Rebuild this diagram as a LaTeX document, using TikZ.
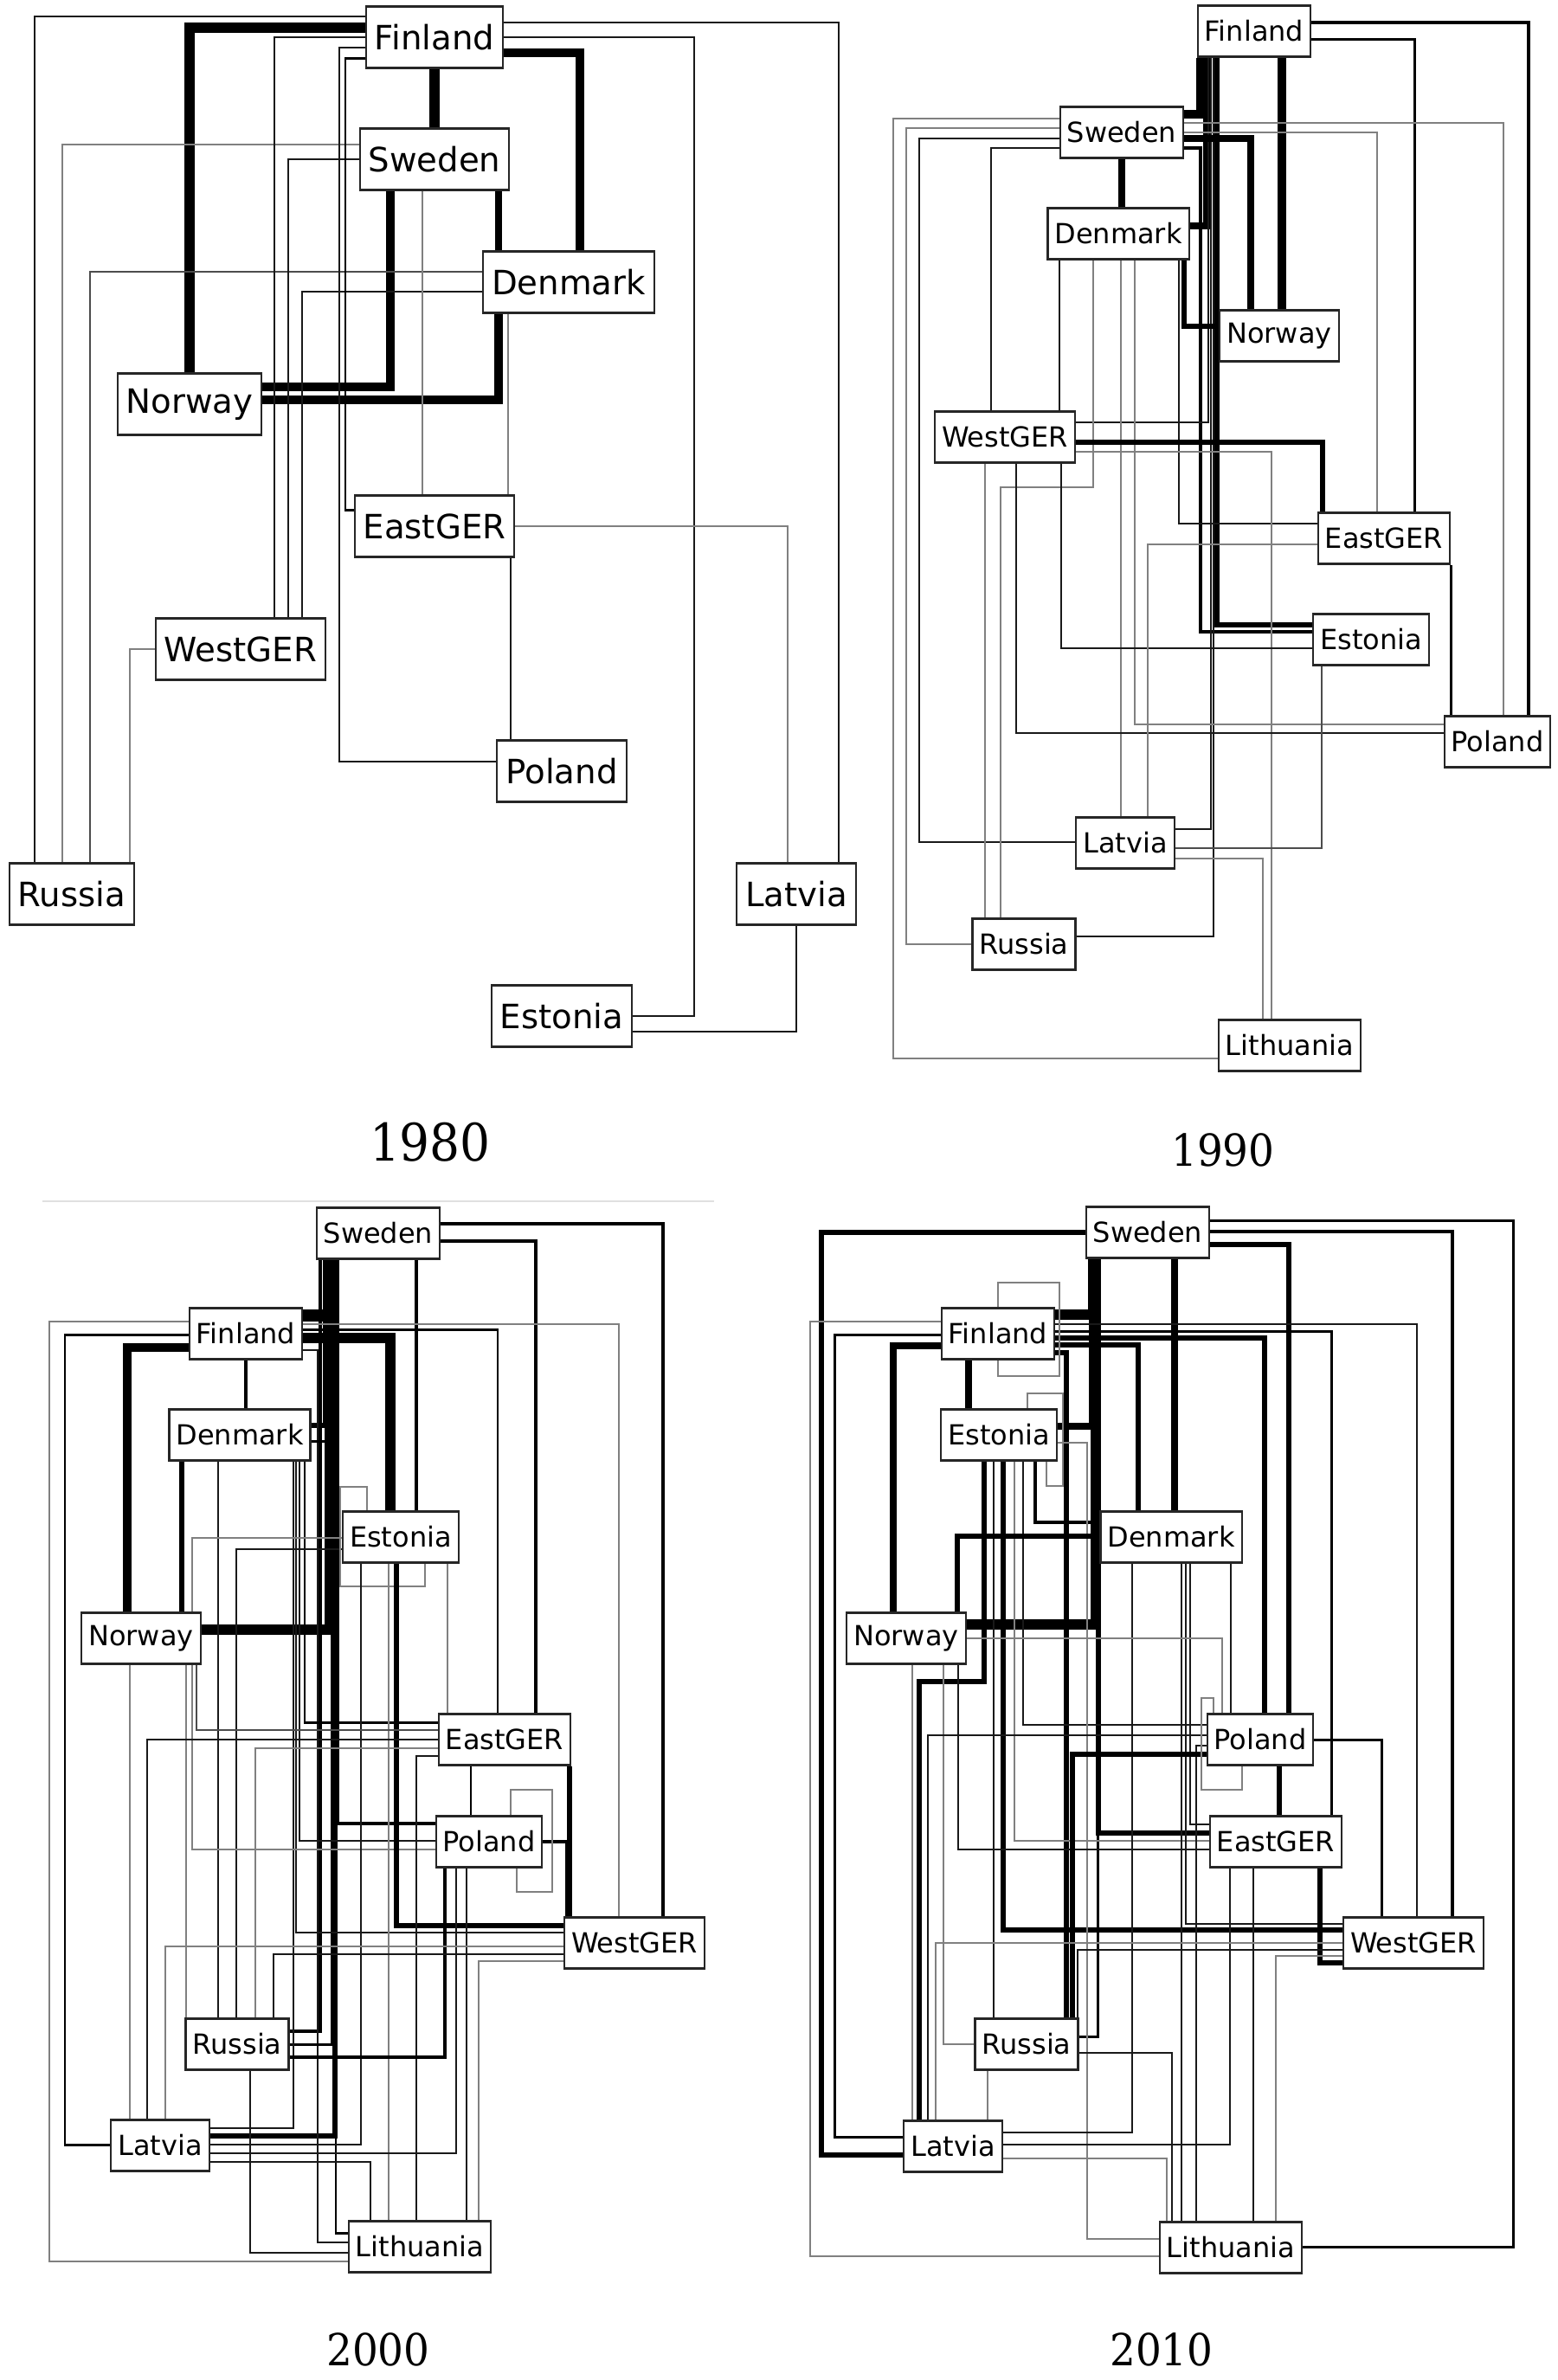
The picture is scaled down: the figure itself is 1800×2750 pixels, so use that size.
\documentclass[tikz,border=0pt]{standalone}
\usepackage{fontspec}
\setmainfont{DejaVu Sans}
\newfontfamily\yearfont[FakeStretch=0.92]{DejaVu Serif}
\usetikzlibrary{backgrounds}

\begin{document}
\begin{tikzpicture}[
    x=0.01cm, y=-0.01cm,
    country/.style={draw=black!85, fill=white, line width=0.6pt, inner xsep=0.1cm, inner ysep=0pt,
      minimum height=0.71cm, font=\fontsize{11}{13}\selectfont},
    smallcountry/.style={country, inner xsep=0.08cm, minimum height=0.59cm, font=\fontsize{9.1}{11}\selectfont},
    bigyear/.style={font=\yearfont\fontsize{17}{20}\selectfont},
    year/.style={font=\yearfont\fontsize{14.5}{17}\selectfont},
    faint/.style={black!12, line width=0.4pt},
    grey/.style={black!50, line width=0.45pt},
    dark/.style={black!70, line width=0.5pt},
    link1/.style={black!90, line width=0.55pt},
    link2/.style={black, line width=0.85pt},
    link3/.style={black, line width=1.15pt},
    link4/.style={black, line width=1.45pt},
    link5/.style={black, line width=1.75pt},
    link6/.style={black, line width=2.3pt},
    link7/.style={black, line width=2.85pt},
    link8/.style={black, line width=3.4pt},
    link9/.style={black, line width=4pt}
  ]
  \useasboundingbox (0,0) rectangle (1800,2750);

  \node[country] (fin80) at (502,43) {Finland};
  \node[country] (swe80) at (502,184) {Sweden};
  \node[country] (den80) at (657,326) {Denmark};
  \node[country] (nor80) at (219,467) {Norway};
  \node[country] (egr80) at (502,608) {EastGER};
  \node[country] (wgr80) at (278,750) {WestGER};
  \node[country] (pol80) at (649,891) {Poland};
  \node[country] (rus80) at (83,1033) {Russia};
  \node[country] (lat80) at (920,1033) {Latvia};
  \node[country] (est80) at (649,1174) {Estonia};
  \node[bigyear] (y80) at (497,1320) {1980};

  \node[smallcountry] (fin90) at (1449,36) {Finland};
  \node[smallcountry] (swe90) at (1296,153) {Sweden};
  \node[smallcountry] (den90) at (1292,270) {Denmark};
  \node[smallcountry] (nor90) at (1478,388) {Norway};
  \node[smallcountry] (wgr90) at (1161,505) {WestGER};
  \node[smallcountry] (egr90) at (1599,622) {EastGER};
  \node[smallcountry] (est90) at (1584,739) {Estonia};
  \node[smallcountry] (pol90) at (1730,857) {Poland};
  \node[smallcountry] (lat90) at (1300,974) {Latvia};
  \node[smallcountry] (rus90) at (1183,1091) {Russia};
  \node[smallcountry] (lit90) at (1490,1208) {Lithuania};
  \node[year] (y90) at (1413,1329) {1990};

  \node[smallcountry] (swe00) at (437,1425) {Sweden};
  \node[smallcountry] (fin00) at (284,1541) {Finland};
  \node[smallcountry] (den00) at (277,1658) {Denmark};
  \node[smallcountry] (est00) at (463,1776) {Estonia};
  \node[smallcountry] (nor00) at (163,1893) {Norway};
  \node[smallcountry] (egr00) at (583,2010) {EastGER};
  \node[smallcountry] (pol00) at (565,2128) {Poland};
  \node[smallcountry] (wgr00) at (733,2245) {WestGER};
  \node[smallcountry] (rus00) at (274,2362) {Russia};
  \node[smallcountry] (lat00) at (185,2479) {Latvia};
  \node[smallcountry] (lit00) at (485,2596) {Lithuania};
  \node[year] (y00) at (437,2715) {2000};

  \node[smallcountry] (swe10) at (1326,1424) {Sweden};
  \node[smallcountry] (fin10) at (1153,1541) {Finland};
  \node[smallcountry] (est10) at (1154,1658) {Estonia};
  \node[smallcountry] (den10) at (1353,1776) {Denmark};
  \node[smallcountry] (nor10) at (1047,1893) {Norway};
  \node[smallcountry] (pol10) at (1456,2010) {Poland};
  \node[smallcountry] (egr10) at (1474,2128) {EastGER};
  \node[smallcountry] (wgr10) at (1633,2245) {WestGER};
  \node[smallcountry] (rus10) at (1186,2362) {Russia};
  \node[smallcountry] (lat10) at (1101,2480) {Latvia};
  \node[smallcountry] (lit10) at (1422,2597) {Lithuania};
  \node[year] (y10) at (1342,2715) {2010};

  \begin{scope}[on background layer]
  \draw[link8] (fin80.west |- 0,32) -| (nor80.north);
  \draw[link8] (fin80.south) -- (swe80.north);
  \draw[link7] (fin80.east |- 0,61) -| (den80.north -| 670,0);
  \draw[link7] (swe80.south -| 451,0) |- (nor80.east |- 0,447);
  \draw[link7] (den80.south -| 576,0) |- (nor80.east |- 0,462);
  \draw[link6] (swe80.south -| 576,0) -- (den80.north -| 576,0);
  \draw[link1] (fin80.west |- 0,19) -| (rus80.north -| 40,0);
  \draw[grey] (swe80.west |- 0,167) -| (rus80.north -| 72,0);
  \draw[dark] (den80.west |- 0,314) -| (rus80.north -| 104,0);
  \draw[grey] (wgr80.west) -| (rus80.north -| 150,0);
  \draw[link1] (fin80.west |- 0,43) -| (wgr80.north -| 317,0);
  \draw[link1] (swe80.west |- 0,184) -| (wgr80.north -| 333,0);
  \draw[link1] (den80.west |- 0,337) -| (wgr80.north -| 349,0);
  \draw[link1] (fin80.west |- 0,55) -| (392,880) -- (pol80.west |- 0,880);
  \draw[link2] (fin80.west |- 0,67) -| (399,589) -- (egr80.west |- 0,589);
  \draw[link1] (fin80.east |- 0,26) -| (lat80.north -| 969,0);
  \draw[link1] (fin80.east |- 0,43) -| (802,1174) -- (est80.east |- 0,1174);
  \draw[grey] (swe80.south -| 488,0) -- (egr80.north -| 488,0);
  \draw[grey] (den80.south -| 587,0) -- (egr80.north -| 587,0);
  \draw[grey] (egr80.east) -| (lat80.north -| 910,0);
  \draw[link1] (egr80.south -| 590,0) -- (pol80.north -| 590,0);
  \draw[link1] (lat80.south) |- (est80.east |- 0,1192);

  \draw[link7] (fin90.south -| 1387,0) |- (swe90.east |- 0,132);
  \draw[link7] (fin90.south -| 1481,0) -- (nor90.north -| 1481,0);
  \draw[link6] (fin90.south -| 1394,0) |- (den90.east |- 0,261);
  \draw[link5] (fin90.south -| 1406,0) |- (est90.west |- 0,722);
  \draw[link3] (swe90.east |- 0,171) -| (1387,730) -- (est90.west |- 0,730);
  \draw[link3] (fin90.east |- 0,26) -| (pol90.north -| 1766,0);
  \draw[link2] (fin90.east |- 0,45) -| (egr90.north -| 1634,0);
  \draw[link1] (fin90.south -| 1396,0) |- (wgr90.east |- 0,488);
  \draw[link1] (fin90.south -| 1399,0) |- (lat90.east |- 0,958);
  \draw[link1] (fin90.south -| 1402,0) |- (rus90.east |- 0,1082);
  \draw[link6] (swe90.south) -- (swe90.south |- den90.north);
  \draw[link6] (swe90.east |- 0,160) -| (nor90.north -| 1445,0);
  \draw[grey] (swe90.east |- 0,142) -| (pol90.north -| 1737,0);
  \draw[grey] (swe90.east |- 0,153) -| (egr90.north -| 1591,0);
  \draw[grey] (swe90.west |- 0,137) -| (1032,1223) -- (lit90.west |- 0,1223);
  \draw[grey] (swe90.west |- 0,148) -| (1047,1091) -- (rus90.west);
  \draw[link1] (swe90.west |- 0,160) -| (1062,973) -- (lat90.west |- 0,973);
  \draw[link1] (swe90.west |- 0,171) -| (wgr90.north -| 1145,0);
  \draw[link1] (den90.south -| 1224,0) -- (wgr90.north -| 1224,0);
  \draw[grey] (den90.south -| 1263,0) |- (1156,563) -- (rus90.north -| 1156,0);
  \draw[grey] (den90.south -| 1295,0) -- (lat90.north -| 1295,0);
  \draw[grey] (den90.south -| 1311,0) |- (pol90.west |- 0,837);
  \draw[link5] (den90.south -| 1368,0) |- (nor90.west |- 0,377);
  \draw[link1] (den90.south -| 1362,0) |- (egr90.west |- 0,605);
  \draw[link5] (wgr90.east |- 0,511) -| (egr90.north -| 1528,0);
  \draw[grey] (wgr90.east |- 0,522) -| (lit90.north -| 1469,0);
  \draw[grey] (wgr90.south -| 1138,0) -- (rus90.north -| 1138,0);
  \draw[link1] (wgr90.south -| 1174,0) |- (pol90.west |- 0,847);
  \draw[link1] (wgr90.south -| 1226,0) |- (est90.west |- 0,749);
  \draw[grey] (egr90.west |- 0,629) -| (lat90.north -| 1326,0);
  \draw[link2] (egr90.south -| 1676,0) -- (pol90.north -| 1676,0);
  \draw[dark] (est90.south -| 1527,0) |- (lat90.east |- 0,980);
  \draw[grey] (lat90.east |- 0,992) -| (lit90.north -| 1459,0);

  \draw[faint] (49,1388) -- (825,1388);
  \draw[link3] (swe00.east |- 0,1414) -| (wgr00.north -| 766,0);
  \draw[link3] (swe00.east |- 0,1434) -| (egr00.north -| 619,0);
  \draw[link3] (swe00.south -| 481,0) -- (est00.north -| 481,0);
  \draw[link9] (swe00.south -| 380,0) |- (fin00.east |- 0,1520);
  \draw[link5] (swe00.south -| 376,0) |- (den00.east |- 0,1647);
  \draw[link8] (swe00.south -| 381,0) |- (nor00.east |- 0,1883);
  \draw[link3] (swe00.south -| 390,0) |- (pol00.west |- 0,2107);
  \draw[link3] (swe00.south -| 370,0) |- (rus00.east |- 0,2347);
  \draw[link4] (swe00.south -| 387,0) |- (lat00.east |- 0,2468);
  \draw[link2] (swe00.south -| 388,0) |- (lit00.west |- 0,2580);
  \draw[link1] (fin00.east |- 0,1560) -| (367,2591) -- (lit00.west |- 0,2591);
  \draw[link2] (den00.east |- 0,1665) -| (383,2362) -- (rus00.east);
  \draw[link8] (fin00.east |- 0,1546) -| (est00.north -| 451,0);
  \draw[link2] (fin00.east |- 0,1536) -| (egr00.north -| 575,0);
  \draw[grey] (fin00.east |- 0,1530) -| (wgr00.north -| 715,0);
  \draw[grey] (fin00.west |- 0,1527) -| (57,2613) -- (lit00.west |- 0,2613);
  \draw[link2] (fin00.west |- 0,1542) -| (75,2478) -- (lat00.west |- 0,2478);
  \draw[link7] (fin00.west |- 0,1557) -| (nor00.north -| 147,0);
  \draw[link3] (fin00.south) -- (fin00.south |- den00.north);
  \draw[link4] (den00.south -| 210,0) -- (nor00.north -| 210,0);
  \draw[link1] (den00.south -| 252,0) -- (rus00.north -| 252,0);
  \draw[link2] (den00.south -| 352,0) |- (egr00.west |- 0,1990);
  \draw[link1] (den00.south -| 346,0) |- (pol00.west |- 0,2127);
  \draw[link1] (den00.south -| 342,0) |- (wgr00.west |- 0,2233);
  \draw[link1] (den00.south -| 339,0) |- (lat00.east |- 0,2459);
  \draw[link1] (est00.west |- 0,1790) -| (rus00.north -| 273,0);
  \draw[grey] (est00.west |- 0,1777) -| (222,2137) -- (pol00.west |- 0,2137);
  \draw[grey] (est00.north -| 424,0) |- (393,1718) |- (491,1833) -- (est00.south -| 491,0);
  \draw[link1] (est00.south -| 417,0) |- (lat00.east |- 0,2478);
  \draw[grey] (est00.south -| 449,0) -- (lit00.north -| 449,0);
  \draw[link4] (est00.south -| 458,0) |- (wgr00.west |- 0,2225);
  \draw[grey] (est00.south -| 517,0) -- (egr00.north -| 517,0);
  \draw[grey] (nor00.south -| 150,0) -- (lat00.north -| 150,0);
  \draw[dark] (nor00.south -| 227,0) |- (egr00.west |- 0,1999);
  \draw[grey] (nor00.south -| 215,0) -- (rus00.north -| 215,0);
  \draw[link1] (egr00.west) -| (lat00.north -| 170,0);
  \draw[grey] (egr00.west |- 0,2020) -| (rus00.north -| 295,0);
  \draw[link1] (egr00.west |- 0,2029) -| (lit00.north -| 481,0);
  \draw[link2] (egr00.south -| 544,0) -- (pol00.north -| 544,0);
  \draw[link4] (egr00.south -| 658,0) -- (wgr00.north -| 658,0);
  \draw[link3] (pol00.east) -| (wgr00.north -| 655,0);
  \draw[link3] (pol00.south -| 514,0) |- (rus00.east |- 0,2377);
  \draw[link1] (pol00.south -| 527,0) |- (lat00.east |- 0,2488);
  \draw[link1] (pol00.south -| 539,0) -- (lit00.north -| 539,0);
  \draw[grey] (pol00.north -| 590,0) |- (638,2068) |- (597,2186) -- (pol00.south -| 597,0);
  \draw[grey] (wgr00.west |- 0,2249) -| (lat00.north -| 191,0);
  \draw[link1] (wgr00.west |- 0,2258) -| (rus00.north -| 316,0);
  \draw[grey] (wgr00.west |- 0,2266) -| (lit00.north -| 553,0);
  \draw[link1] (rus00.south -| 289,0) |- (lit00.west |- 0,2603);
  \draw[link1] (lat00.east |- 0,2498) -| (lit00.north -| 428,0);

  \draw[link2] (swe10.east |- 0,1410) -| (1748,2596) -- (lit10.east |- 0,2596);
  \draw[link3] (swe10.east |- 0,1423) -| (wgr10.north -| 1678,0);
  \draw[link5] (swe10.east |- 0,1438) -| (pol10.north -| 1489,0);
  \draw[link5] (swe10.west) -| (949,2490) -- (lat10.west |- 0,2490);
  \draw[link6] (swe10.south -| 1357,0) -- (den10.north -| 1357,0);
  \draw[link8] (swe10.south -| 1263,0) |- (fin10.east |- 0,1519);
  \draw[link6] (swe10.south -| 1262,0) |- (est10.east |- 0,1648);
  \draw[link8] (swe10.south -| 1266,0) |- (nor10.east |- 0,1877);
  \draw[link5] (swe10.south -| 1269,0) |- (egr10.west |- 0,2118);
  \draw[link2] (swe10.south -| 1268,0) |- (rus10.east |- 0,2353);
  \draw[link1] (fin10.east |- 0,1530) -| (wgr10.north -| 1637,0);
  \draw[link2] (fin10.east |- 0,1538) -| (egr10.north -| 1538,0);
  \draw[link4] (fin10.east |- 0,1546) -| (pol10.north -| 1461,0);
  \draw[link5] (fin10.east |- 0,1554) -| (den10.north -| 1315,0);
  \draw[link4] (fin10.east |- 0,1563) -| (rus10.north -| 1232,0);
  \draw[grey] (fin10.west |- 0,1527) -| (936,2607) -- (lit10.west |- 0,2607);
  \draw[link2] (fin10.west |- 0,1542) -| (964,2469) -- (lat10.west |- 0,2469);
  \draw[link6] (fin10.west |- 0,1555) -| (nor10.north -| 1032,0);
  \draw[link6] (fin10.south -| 1119,0) -- (est10.north -| 1119,0);
  \draw[grey] (fin10.north) |- (1224,1482) |- (1153,1590) -- (fin10.south);
  \draw[link3] (est10.south -| 1196,0) |- (den10.west |- 0,1759);
  \draw[link4] (est10.south -| 1159,0) |- (wgr10.west |- 0,2230);
  \draw[link4] (est10.south -| 1137,0) |- (1062,1943) -- (lat10.north -| 1062,0);
  \draw[link1] (est10.south -| 1148,0) -- (rus10.north -| 1148,0);
  \draw[grey] (est10.south -| 1172,0) |- (egr10.west |- 0,2127);
  \draw[link1] (est10.south -| 1182,0) |- (pol10.west |- 0,1993);
  \draw[grey] (est10.east |- 0,1667) -| (1256,2587) -- (lit10.west |- 0,2587);
  \draw[grey] (est10.north -| 1187,0) |- (1228,1610) |- (1209,1717) -- (est10.south -| 1209,0);
  \draw[link4] (den10.west |- 0,1775) -| (nor10.north -| 1106,0);
  \draw[link1] (den10.south -| 1308,0) |- (lat10.east |- 0,2464);
  \draw[link1] (den10.south -| 1365,0) -- (lit10.north -| 1365,0);
  \draw[link1] (den10.south -| 1370,0) |- (wgr10.west |- 0,2223);
  \draw[link1] (den10.south -| 1375,0) |- (egr10.west |- 0,2108);
  \draw[link1] (den10.south -| 1422,0) -- (pol10.north -| 1422,0);
  \draw[link1] (pol10.west |- 0,2017) -| (lit10.north -| 1382,0);
  \draw[grey] (nor10.east) -| (pol10.north -| 1412,0);
  \draw[grey] (nor10.south -| 1054,0) -- (lat10.north -| 1054,0);
  \draw[grey] (nor10.south -| 1090,0) |- (rus10.west);
  \draw[link1] (nor10.south -| 1107,0) |- (egr10.west |- 0,2137);
  \draw[link2] (pol10.east) -| (wgr10.north -| 1596,0);
  \draw[link4] (pol10.south -| 1478,0) -- (egr10.north -| 1478,0);
  \draw[link1] (pol10.west |- 0,2005) -| (lat10.north -| 1072,0);
  \draw[link4] (pol10.west |- 0,2027) -| (rus10.north -| 1239,0);
  \draw[grey] (pol10.north -| 1402,0) |- (1388,1962) |- (1435,2068) -- (pol10.south -| 1435,0);
  \draw[link5] (egr10.south -| 1525,0) |- (wgr10.west |- 0,2268);
  \draw[link1] (egr10.south -| 1421,0) |- (lat10.east |- 0,2478);
  \draw[link1] (egr10.south -| 1448,0) -- (lit10.north -| 1448,0);
  \draw[grey] (wgr10.west) -| (lat10.north -| 1081,0);
  \draw[link1] (wgr10.west |- 0,2253) -| (rus10.north -| 1245,0);
  \draw[grey] (wgr10.west |- 0,2260) -| (lit10.north -| 1474,0);
  \draw[link1] (rus10.east |- 0,2372) -| (lit10.north -| 1354,0);
  \draw[grey] (rus10.south -| 1141,0) -- (lat10.north -| 1141,0);
  \draw[grey] (lat10.east |- 0,2494) -| (lit10.north -| 1348,0);
  \end{scope}
\end{tikzpicture}
\end{document}
